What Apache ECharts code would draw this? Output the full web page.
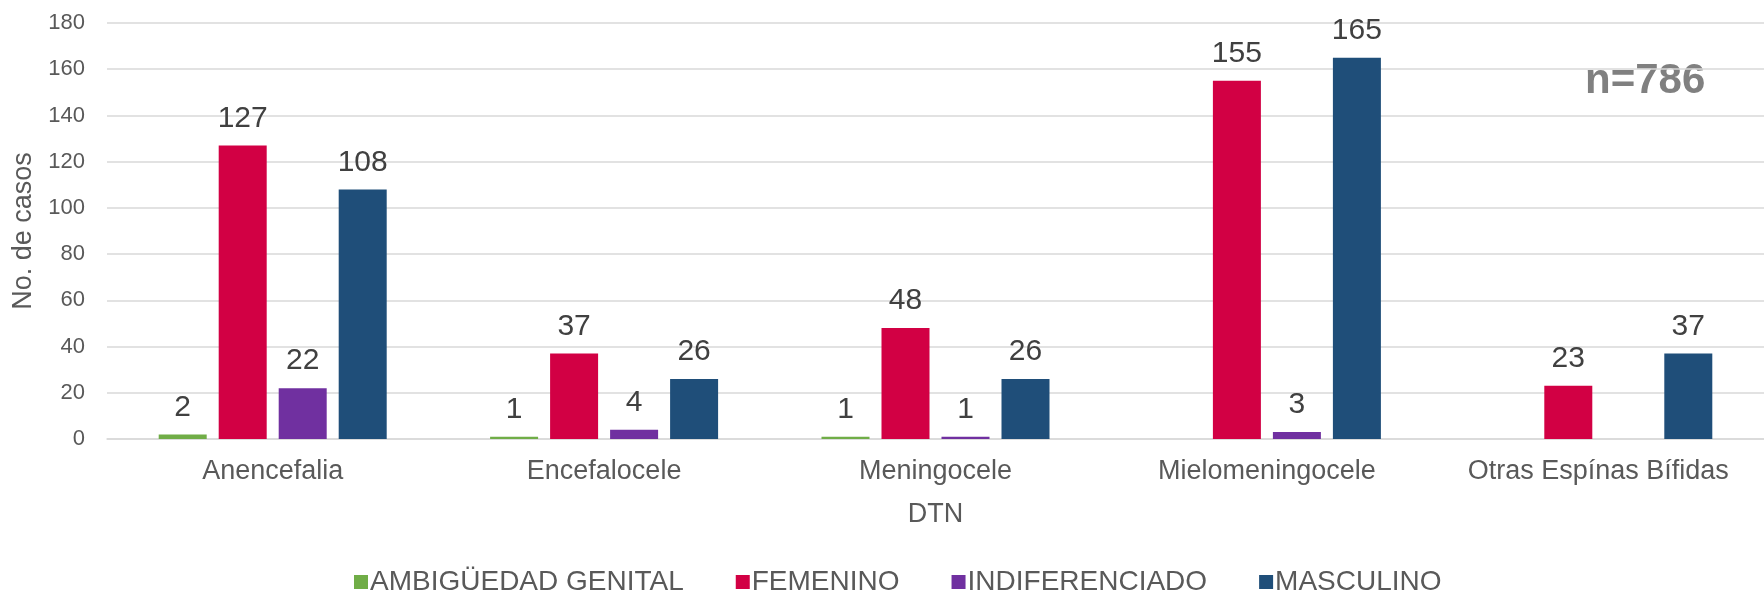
<!DOCTYPE html>
<html>
<head>
<meta charset="utf-8">
<script src="https://cdn.jsdelivr.net/npm/echarts@6/dist/echarts.min.js"></script>
<style>
html,body{margin:0;padding:0;background:#fff;}
#c{width:1764px;height:595px;}
</style>
</head>
<body>
<div id="c"></div>
<script>
const categories = ['Anencefalia', 'Encefalocele', 'Meningocele', 'Mielomeningocele', 'Otras Espínas Bífidas'];
const seriesNames = ['AMBIGÜEDAD GENITAL', 'FEMENINO', 'INDIFERENCIADO', 'MASCULINO'];
const ambiguedad = [2, 1, 1, null, null];
const femenino = [127, 37, 48, 155, 23];
const indiferenciado = [22, 4, 1, 3, null];
const masculino = [108, 26, 26, 165, 37];
const colors = ['#70AD47', '#D20044', '#7030A0', '#1F4E79'];
const yTicks = { min: 0, max: 180, interval: 20 };
const annotation = 'n=786';

const FONT = '"Liberation Sans", Arial, sans-serif';
const chart = echarts.init(document.getElementById('c'));
const values = [ambiguedad, femenino, indiferenciado, masculino];

chart.setOption({
  animation: false,
  backgroundColor: '#ffffff',
  textStyle: { fontFamily: FONT },
  grid: { left: 107, top: 23, width: 1670, height: 416, containLabel: false },
  legend: {
    data: seriesNames,
    top: 563,
    left: 349,
    itemWidth: 14,
    itemHeight: 14,
    itemGap: 52,
    icon: 'rect',
    textStyle: { fontSize: 28, color: '#595959', fontFamily: FONT, padding: [0, 0, 0, -3] }
  },
  xAxis: {
    type: 'category',
    data: categories,
    name: 'DTN',
    nameLocation: 'middle',
    nameGap: 62,
    nameTextStyle: { fontSize: 27, color: '#595959' },
    axisLine: { show: true, lineStyle: { color: '#d9d9d9', width: 1.5 } },
    axisTick: { show: false },
    axisLabel: { fontSize: 27, color: '#595959', margin: 19, interval: 0 }
  },
  yAxis: {
    type: 'value',
    min: yTicks.min,
    max: yTicks.max,
    interval: yTicks.interval,
    name: 'No. de casos',
    nameLocation: 'middle',
    nameGap: 70,
    nameTextStyle: { fontSize: 27, color: '#595959' },
    axisLine: { show: false },
    axisTick: { show: false },
    axisLabel: { fontSize: 22, color: '#595959', margin: 22 },
    splitLine: { lineStyle: { color: '#d9d9d9', width: 1.5 } }
  },
  series: seriesNames.map((n, i) => ({
    name: n,
    type: 'bar',
    data: values[i],
    barWidth: 48,
    barGap: '25%',
    itemStyle: { color: colors[i] },
    label: {
      show: true,
      position: 'top',
      distance: 12,
      fontSize: 30,
      color: '#404040',
      fontFamily: FONT
    }
  })),
  graphic: [{
    type: 'text',
    left: 1585,
    top: 60,
    style: { text: annotation, fontSize: 42, fontWeight: 'bold', fill: '#808080', fontFamily: FONT }
  }]
});
</script>
</body>
</html>
